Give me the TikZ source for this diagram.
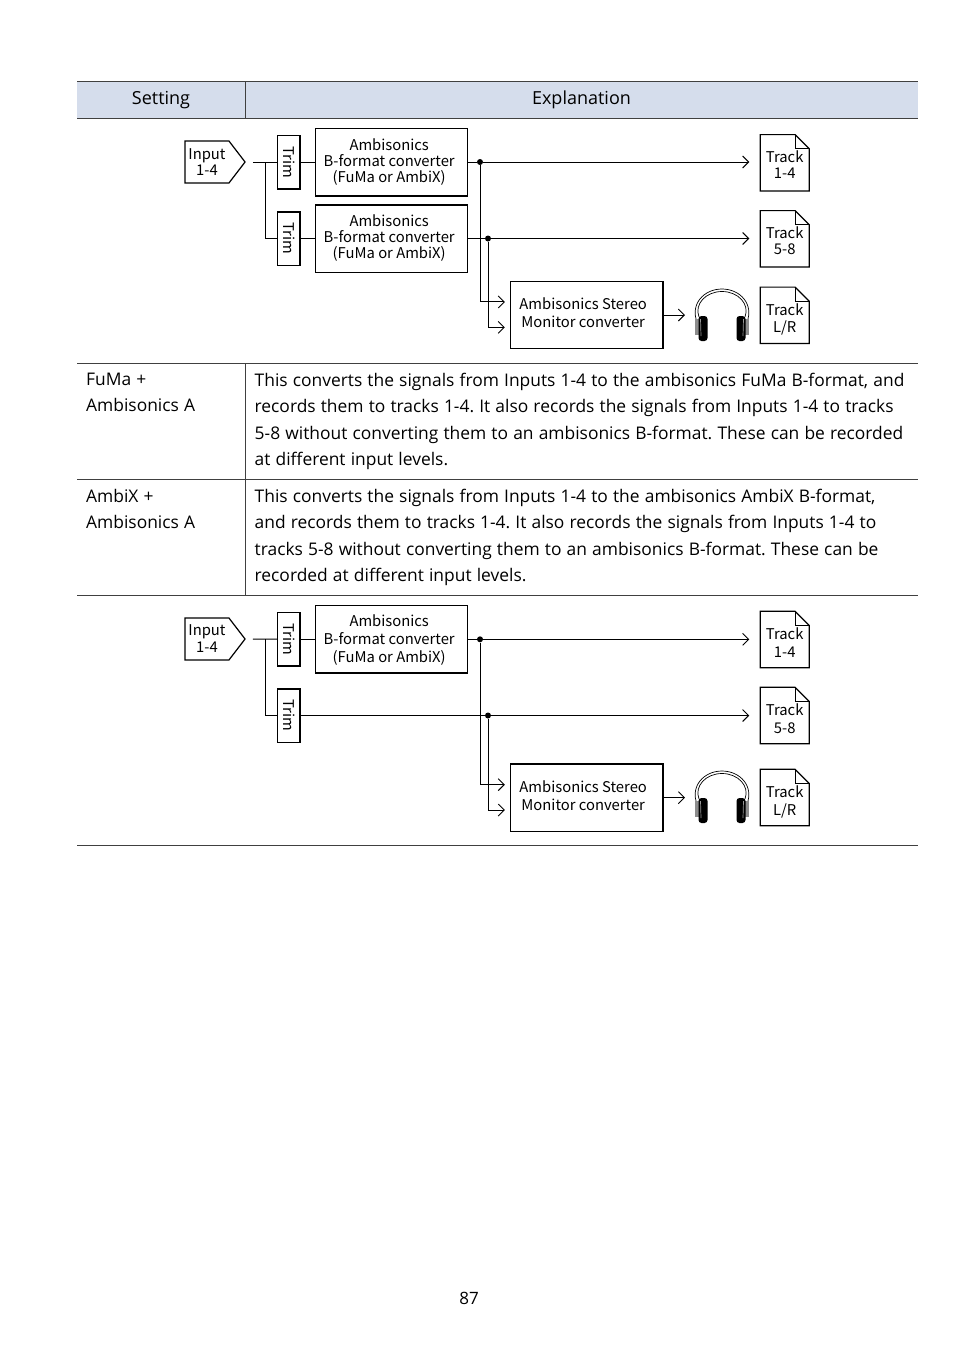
\documentclass[tikz,border=0pt]{standalone}
\usepackage{fontspec}
\setmainfont{Open Sans}
\newfontfamily\labelfont{Noto Sans CJK JP}
\usetikzlibrary{positioning, calc, arrows.meta, shapes.symbols}
\definecolor{headfill}{HTML}{D5DDEC}
\newcommand{\tightwords}{\spaceskip=5.15pt\relax}
\tikzset{
labeltext/.style={inner sep=0pt, align=center, font=\labelfont\fontsize{14.8}{16}\selectfont},
widetext/.style={labeltext, font=\labelfont\fontsize{14.8}{18}\selectfont},
block/.style={draw, line width=1.2pt, minimum width=152.5pt, minimum height=67.5pt, inner sep=0pt},
trimbox/.style={labeltext, draw, line width=1.5pt, rotate=-90, minimum width=53.5pt, minimum height=22.5pt},
inputbox/.style={labeltext, draw, line width=1.2pt, signal, signal to=east, signal from=nowhere, signal pointer angle=105, minimum width=60pt, minimum height=42pt},
trackfile/.style={labeltext, minimum width=48.5pt, minimum height=56pt,
  append after command={\pgfextra{
    \draw[line width=1.2pt, line join=miter] ([yshift=#1]\tikzlastnode.south west) -- ([yshift=#1]\tikzlastnode.north west) -- ([xshift=-14pt,yshift=#1]\tikzlastnode.north east) -- ([yshift=#1-14pt]\tikzlastnode.north east) -- ([yshift=#1]\tikzlastnode.south east) -- cycle;
    \draw[line width=1.2pt] ([xshift=-14pt,yshift=#1]\tikzlastnode.north east) -- ([xshift=-14pt,yshift=#1-14pt]\tikzlastnode.north east) -- ([yshift=#1-14pt]\tikzlastnode.north east);
  }}},
dot/.style={circle, fill=black, inner sep=0pt, minimum size=6pt},
wire/.style={line width=1pt},
line/.style={line width=1pt, -{Straight Barb[length=6pt,width=12pt,line width=.9pt]}},
rule/.style={line width=.8pt, draw=black!75},
body/.style={anchor=north west, inner sep=0pt, align=left, text width=680pt, font=\frenchspacing\fontsize{17.4}{26.33}\selectfont},
headphones/.pic={
  \draw[line width=.7pt] (-25,6) .. controls (-32,-12) and (-18,-27) .. (0,-27) .. controls (18,-27) and (32,-12) .. (25,6);
  \draw[line width=.7pt] (-23,1) .. controls (-28,-12) and (-16,-24.5) .. (0,-24.5) .. controls (16,-24.5) and (28,-12) .. (23,1);
  \fill[black!45] (-27,3) rectangle (-21,19);
  \fill[black!45] (27,3) rectangle (21,19);
  \fill[rounded corners=3pt] (-23.5,0) rectangle (-14.5,25);
  \fill[rounded corners=3pt] (23.5,0) rectangle (14.5,25);
  \draw[black!40, line width=.7pt] (-21.5,3) -- (-21,20);
  \draw[black!40, line width=.7pt] (21.5,3) -- (21,20);
}
}

\begin{document}
\begin{tikzpicture}[x=1pt, y=-1pt]
\useasboundingbox (0,0) rectangle (954,1350);

% table
\fill[headfill] (77,81.5) rectangle (917.5,118.5);
\draw[rule] (77,81.5) -- (917.5,81.5);
\draw[rule] (77,118.5) -- (917.5,118.5);
\draw[rule] (245.5,81.5) -- (245.5,118.5);
\draw[rule] (77,363.5) -- (917.5,363.5);
\draw[rule] (77,479.5) -- (917.5,479.5);
\draw[rule] (77,595.5) -- (917.5,595.5);
\draw[rule] (77,845.5) -- (917.5,845.5);
\draw[rule] (245.5,363.5) -- (245.5,595.5);
\node[font=\fontsize{18}{22}\selectfont] (setting) at (161,100) {Setting};
\node[font=\fontsize{18}{22}\selectfont] (explain) at (581.5,100) {Explanation};

\node[body] (fumaname) at (86,373) {\tightwords FuMa +\\Ambisonics A};
\node[body] (fumatext) at (254.5,373) {\tightwords This converts the signals from Inputs 1-4 to the ambisonics FuMa B-format, and\\records them to tracks 1-4. It also records the signals from Inputs 1-4 to tracks\\5-8 without converting them to an ambisonics B-format. These can be recorded\\at different input levels.};
\node[body] (ambixname) at (86,489) {\tightwords AmbiX +\\Ambisonics A};
\node[body] (ambixtext) at (254.5,489) {\tightwords This converts the signals from Inputs 1-4 to the ambisonics AmbiX B-format,\\and records them to tracks 1-4. It also records the signals from Inputs 1-4 to\\tracks 5-8 without converting them to an ambisonics B-format. These can be\\recorded at different input levels.};
\node[font=\fontsize{17}{20}\selectfont] (pagenum) at (469,1298) {87};

% upper diagram
\node[inputbox] (input) at (207,162) {Input\\1-4};
\node[trimbox] (trima) at (288.8,162) {Trim};
\node[trimbox] (trimb) at (288.8,238.5) {Trim};
\node[block, label={[labeltext, xshift=-2.3pt, yshift=0.3pt]center:Ambisonics\\B-format converter\\(FuMa or AmbiX)}] (bfa) at (391.5,162.3) {};
\node[block, label={[labeltext, xshift=-2.3pt, yshift=1pt]center:Ambisonics\\B-format converter\\(FuMa or AmbiX)}] (bfb) at (391.5,238.8) {};
\node[block, label={[widetext, xshift=-3.5pt, yshift=2pt]center:Ambisonics Stereo\\Monitor converter}] (stereo) at (586.7,315) {};
\node[trackfile=2pt] (tracka) at (784.7,164.8) {Track\\1-4};
\node[trackfile=2pt] (trackb) at (784.7,240.8) {Track\\5-8};
\node[trackfile=4pt] (trackc) at (784.7,319.3) {Track\\[1pt]L/R};
\pic at (722,316) {headphones};
\node[dot] (dota) at (480,162) {};
\node[dot] (dotb) at (488,238.5) {};
\coordinate (split) at (265,162);
\coordinate (phones) at (696,315);

\draw[wire, shorten <=7pt] (input.east) -- (trima);
\draw[wire] (split) |- (trimb);
\draw[wire] (trima) -- (trima -| bfa.west);
\draw[wire] (trimb) -- (trimb -| bfb.west);
\draw[wire] (dota -| bfa.east) -- (dota);
\draw[wire] (dotb -| bfb.east) -- (dotb);
\draw[line, shorten >=11pt] (dota) -- (dota -| tracka.west);
\draw[line, shorten >=11pt] (dotb) -- (dotb -| trackb.west);
\draw[line, shorten >=5pt] (dota) |- ($(stereo.north west)!0.31!(stereo.south west)$);
\draw[line, shorten >=5pt] (dotb) |- ($(stereo.north west)!0.68!(stereo.south west)$);
\draw[line, shorten >=11pt] (stereo) -- (phones);

% lower diagram
\node[inputbox] (inputl) at (207,639) {Input\\[1pt]1-4};
\node[trimbox] (trimc) at (288.8,639.3) {Trim};
\node[trimbox] (trimd) at (288.8,715.5) {Trim};
\node[block, label={[widetext, xshift=-2.3pt, yshift=-0.7pt]center:Ambisonics\\B-format converter\\(FuMa or AmbiX)}] (bfc) at (391.5,639.3) {};
\node[block, label={[widetext, xshift=-3.5pt, yshift=2.5pt]center:Ambisonics Stereo\\Monitor converter}] (stereol) at (586.7,797.7) {};
\node[trackfile=3pt] (trackd) at (784.7,642.5) {Track\\[2pt]1-4};
\node[trackfile=3pt] (tracke) at (784.7,718.5) {Track\\[2pt]5-8};
\node[trackfile=4.3pt] (trackf) at (784.7,801.8) {Track\\[2pt]L/R};
\pic at (722,798) {headphones};
\node[dot] (dotc) at (480,639.3) {};
\node[dot] (dotd) at (488,715.5) {};
\coordinate (splitl) at (265,639.3);
\coordinate (phonesl) at (696,797.7);

\draw[wire, shorten <=7pt] (inputl.east) -- (trimc);
\draw[wire] (splitl) |- (trimd);
\draw[wire] (trimc) -- (trimc -| bfc.west);
\draw[wire] (dotc -| bfc.east) -- (dotc);
\draw[wire] (trimd) -- (dotd);
\draw[line, shorten >=11pt] (dotc) -- (dotc -| trackd.west);
\draw[line, shorten >=11pt] (dotd) -- (dotd -| tracke.west);
\draw[line, shorten >=5pt] (dotc) |- ($(stereol.north west)!0.31!(stereol.south west)$);
\draw[line, shorten >=5pt] (dotd) |- ($(stereol.north west)!0.68!(stereol.south west)$);
\draw[line, shorten >=11pt] (stereol) -- (phonesl);
\end{tikzpicture}
\end{document}
